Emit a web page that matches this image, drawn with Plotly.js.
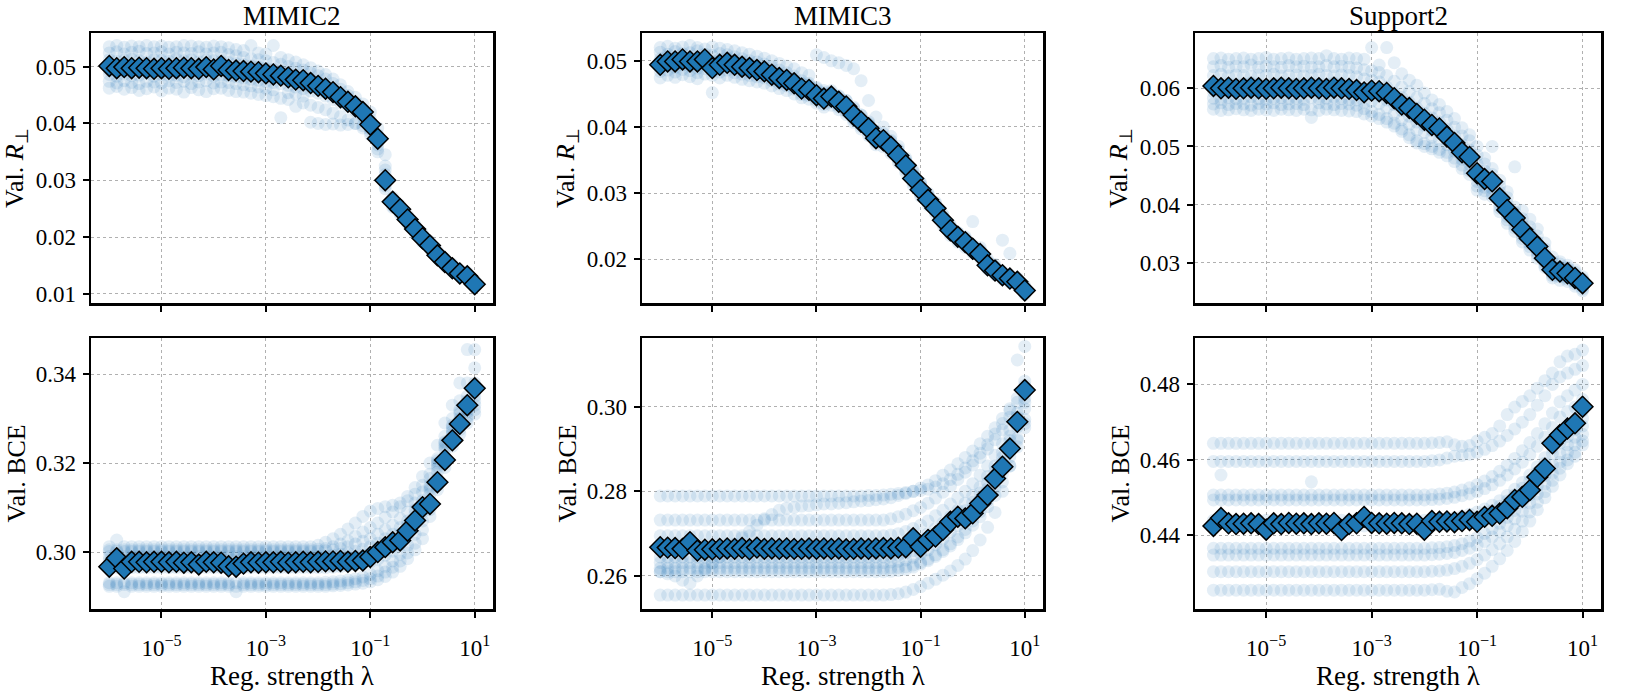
<!DOCTYPE html>
<html>
<head>
<meta charset="utf-8">
<script src="https://cdn.plot.ly/plotly-3.0.1.min.js"></script>
<style>
  html, body { margin: 0; padding: 0; background: #fff; }
  #chart { width: 1634px; height: 695px; }
</style>
</head>
<body>
<div id="chart"></div>
<script>
// Regularisation strengths (log-spaced grid, 7 per decade)
const lambdas = [
  1e-6, 1.389e-6, 1.931e-6, 2.683e-6, 3.728e-6, 5.179e-6, 7.197e-6,
  1e-5, 1.389e-5, 1.931e-5, 2.683e-5, 3.728e-5, 5.179e-5, 7.197e-5,
  1e-4, 1.389e-4, 1.931e-4, 2.683e-4, 3.728e-4, 5.179e-4, 7.197e-4,
  1e-3, 1.389e-3, 1.931e-3, 2.683e-3, 3.728e-3, 5.179e-3, 7.197e-3,
  1e-2, 1.389e-2, 1.931e-2, 2.683e-2, 3.728e-2, 5.179e-2, 7.197e-2,
  0.1, 0.1389, 0.1931, 0.2683, 0.3728, 0.5179, 0.7197,
  1, 1.389, 1.931, 2.683, 3.728, 5.179, 7.197,
  10
];

const datasetNames = ['MIMIC2', 'MIMIC3', 'Support2'];
const xTickVals = [1e-5, 1e-3, 1e-1, 10];
const xTickText = ['10<sup>\u22125</sup>', '10<sup>\u22123</sup>', '10<sup>\u22121</sup>', '10<sup>1</sup>'];

// ---------- MIMIC2: validation R_perp ----------
const mimic2RMean = [
  .0501,.0497,.0499,.0497,.0498,.0497,.0496,
  .0497,.0496,.0497,.0498,.0497,.0496,.0499,
  .0495,.0501,.0494,.0493,.0492,.0491,.0490,
  .0488,.0486,.0484,.0481,.0477,.0476,.0471,
  .0466,.0461,.0455,.0446,.0438,.0430,.0420,
  .0398,.0373,.0300,.0262,.0249,.0231,.0214,
  .0198,.0185,.0168,.0156,.0145,.0136,.0131,
  .0117
];
const mimic2RRuns = [
  [.0535,.0537,.0534,.0536,.0535,.0537,.0535,.0536,.0534,.0535,.0537,.0536,.0535,.0534,.0536,.0535,.0533,
   .0530,.0528,.0537,.0524,.0522,.0537,.0516,.0512,.0508,.0503,.0498,.0492,.0486,.0478,.0468,.0456,.0446,.0434,.0420,.0392,
   .0325,.0270,.0256,.0238,.0222,.0206,.0192,.0175,.0162,.0152,.0142,.0137,.0123],
  [.0524,.0526,.0522,.0525,.0527,.0523,.0524,.0526,.0522,.0525,.0524,.0523,.0526,.0522,.0524,.0525,.0521,
   .0519,.0516,.0514,.0512,.0510,.0507,.0504,.0500,.0497,.0494,.0489,.0484,.0478,.0470,.0460,.0449,.0437,.0426,.0408,.0380,
   .0310,.0266,.0252,.0234,.0218,.0201,.0188,.0171,.0159,.0148,.0139,.0133,.0120],
  [.0512,.0509,.0511,.0513,.0510,.0508,.0512,.0511,.0509,.0513,.0510,.0512,.0508,.0511,.0510,.0509,.0507,
   .0505,.0503,.0501,.0499,.0497,.0495,.0492,.0489,.0485,.0482,.0478,.0472,.0466,.0459,.0450,.0441,.0432,.0424,.0402,.0378,
   .0300,.0262,.0249,.0232,.0215,.0199,.0186,.0169,.0157,.0146,.0137,.0131,.0118],
  [.0503,.0500,.0504,.0501,.0502,.0505,.0500,.0503,.0501,.0502,.0504,.0500,.0503,.0502,.0501,.0503,.0500,
   .0498,.0496,.0494,.0492,.0490,.0488,.0486,.0483,.0480,.0478,.0474,.0469,.0464,.0458,.0450,.0442,.0433,.0423,.0400,.0372,
   .0296,.0260,.0247,.0230,.0214,.0197,.0184,.0168,.0155,.0145,.0136,.0130,.0117],
  [.0493,.0496,.0492,.0495,.0494,.0491,.0495,.0493,.0496,.0492,.0494,.0495,.0491,.0494,.0493,.0495,.0492,
   .0490,.0488,.0486,.0484,.0482,.0480,.0478,.0475,.0472,.0470,.0466,.0462,.0456,.0450,.0444,.0436,.0428,.0416,.0395,.0368,
   .0290,.0258,.0245,.0228,.0212,.0195,.0183,.0166,.0154,.0143,.0135,.0129,.0116],
  [.0486,.0483,.0487,.0484,.0485,.0488,.0483,.0486,.0484,.0485,.0482,.0486,.0484,.0487,.0483,.0485,.0484,
   .0482,.0480,.0478,.0476,.0474,.0472,.0470,.0467,.0464,.0461,.0457,.0453,.0448,.0442,.0436,.0430,.0422,.0412,.0390,.0362,
   .0285,.0255,.0243,.0226,.0210,.0193,.0181,.0165,.0152,.0142,.0134,.0128,.0115],
  [.0474,.0471,.0475,.0472,.0470,.0474,.0473,.0471,.0475,.0472,.0474,.0470,.0473,.0475,.0471,.0473,.0472,
   .0470,.0468,.0466,.0464,.0462,.0459,.0410,.0454,.0452,.0448,.0402,.0400,.0398,.0399,.0397,.0398,.0400,.0396,.0385,.0355,
   .0345,.0252,.0240,.0224,.0207,.0191,.0179,.0163,.0150,.0140,.0132,.0126,.0113],
  [.0462,.0465,.0460,.0463,.0458,.0461,.0464,.0457,.0462,.0460,.0455,.0463,.0459,.0456,.0461,.0462,.0458,
   .0456,.0455,.0453,.0451,.0449,.0447,.0444,.0442,.0430,.0436,.0432,.0428,.0424,.0418,.0412,.0406,.0400,.0392,.0380,.0350,
   .0318,.0264,.0251,.0233,.0216,.0200,.0187,.0170,.0158,.0147,.0138,.0132,.0119]
];

// ---------- MIMIC3: validation R_perp ----------
const mimic3RMean = [
  .0494,.0499,.0499,.0502,.0499,.0499,.0502,
  .0489,.0494,.0497,.0494,.0491,.0489,.0486,
  .0484,.0479,.0474,.0471,.0466,.0458,.0456,
  .0448,.0443,.0446,.0438,.0431,.0418,.0408,
  .0398,.0383,.0380,.0370,.0357,.0342,.0322,
  .0305,.0290,.0277,.0259,.0244,.0234,.0226,
  .0216,.0208,.0191,.0183,.0176,.0171,.0166,
  .0153
];
const mimic3RRuns = [
  [.0520,.0522,.0519,.0521,.0523,.0520,.0518,.0521,.0519,.0517,.0515,
   .0512,.0510,.0507,.0504,.0500,.0496,.0492,.0488,.0482,.0478,
   .0509,.0505,.0500,.0497,.0493,.0488,.0470,.0440,.0415,.0400,.0386,.0371,.0353,.0334,
   .0316,.0300,.0286,.0268,.0252,.0240,.0234,.0257,.0218,.0200,.0192,.0229,.0209,.0172,.0160],
  [.0513,.0510,.0514,.0511,.0512,.0515,.0510,.0508,.0511,.0509,.0506,.0503,.0500,.0498,.0495,.0491,.0486,.0482,.0477,.0470,.0466,
   .0460,.0455,.0452,.0446,.0440,.0428,.0418,.0408,.0394,.0390,.0380,.0366,.0350,.0332,
   .0314,.0298,.0284,.0266,.0250,.0240,.0232,.0222,.0214,.0197,.0189,.0181,.0176,.0170,.0158],
  [.0503,.0506,.0502,.0505,.0504,.0501,.0506,.0497,.0502,.0504,.0500,.0497,.0495,.0492,.0490,.0485,.0480,.0477,.0472,.0465,.0462,
   .0454,.0449,.0450,.0443,.0435,.0423,.0413,.0403,.0388,.0385,.0375,.0361,.0346,.0327,
   .0310,.0294,.0281,.0263,.0247,.0237,.0229,.0219,.0211,.0194,.0186,.0178,.0173,.0168,.0156],
  [.0496,.0499,.0495,.0498,.0497,.0494,.0499,.0491,.0496,.0498,.0495,.0492,.0490,.0487,.0485,.0480,.0475,.0472,.0467,.0459,.0457,
   .0449,.0444,.0447,.0439,.0432,.0419,.0409,.0399,.0384,.0381,.0371,.0358,.0343,.0323,
   .0306,.0291,.0278,.0260,.0245,.0235,.0227,.0217,.0209,.0192,.0184,.0177,.0172,.0167,.0154],
  [.0491,.0493,.0490,.0494,.0492,.0489,.0495,.0484,.0489,.0492,.0489,.0486,.0484,.0482,.0480,.0475,.0470,.0467,.0462,.0454,.0452,
   .0444,.0439,.0442,.0434,.0428,.0415,.0405,.0395,.0380,.0377,.0367,.0354,.0339,.0319,
   .0302,.0288,.0275,.0257,.0242,.0232,.0224,.0214,.0206,.0189,.0181,.0174,.0169,.0164,.0151],
  [.0484,.0486,.0483,.0487,.0485,.0482,.0488,.0478,.0483,.0486,.0482,.0480,.0478,.0476,.0474,.0470,.0465,.0462,.0457,.0449,.0447,
   .0440,.0434,.0437,.0430,.0423,.0411,.0401,.0391,.0377,.0374,.0364,.0350,.0335,.0316,
   .0298,.0285,.0272,.0254,.0239,.0229,.0221,.0212,.0204,.0187,.0179,.0172,.0167,.0162,.0149],
  [.0474,.0478,.0475,.0479,.0476,.0473,.0480,.0452,.0474,.0478,.0475,.0472,.0470,.0468,.0466,.0462,.0458,.0455,.0450,.0444,.0442,
   .0436,.0430,.0433,.0426,.0419,.0407,.0397,.0387,.0373,.0370,.0360,.0346,.0331,.0312,
   .0295,.0282,.0269,.0251,.0236,.0226,.0218,.0210,.0202,.0185,.0177,.0170,.0165,.0160,.0147],
  [.0500,.0497,.0501,.0499,.0498,.0502,.0496,.0500,.0498,.0501,.0497,.0494,.0493,.0490,.0487,.0483,.0478,.0474,.0470,.0466,.0463,
   .0458,.0452,.0455,.0447,.0440,.0430,.0418,.0405,.0390,.0386,.0378,.0364,.0348,.0328,
   .0312,.0296,.0280,.0262,.0248,.0236,.0228,.0218,.0210,.0193,.0185,.0178,.0172,.0166,.0154]
];

// ---------- Support2: validation R_perp ----------
const support2RMean = [
  .0604,.0600,.0601,.0599,.0600,.0601,.0600,
  .0599,.0600,.0601,.0600,.0599,.0600,.0601,
  .0600,.0599,.0601,.0600,.0599,.0597,.0593,
  .0596,.0595,.0592,.0583,.0572,.0566,.0556,
  .0546,.0537,.0531,.0517,.0506,.0490,.0482,
  .0454,.0444,.0440,.0411,.0391,.0377,.0357,
  .0342,.0328,.0308,.0288,.0285,.0282,.0274,
  .0265
];
const support2RRuns = [
  [.0651,.0652,.0650,.0651,.0652,.0650,.0651,.0653,.0650,.0651,.0652,.0650,.0651,.0652,.0651,.0656,.0651,.0650,.0652,.0651,
   .0650,.0670,.0640,.0670,.0644,.0625,.0614,.0605,.0592,.0580,.0572,.0560,.0548,.0532,.0520,
   .0500,.0480,.0500,.0442,.0422,.0465,.0390,.0375,.0358,.0334,.0310,.0302,.0296,.0288,.0276],
  [.0637,.0639,.0636,.0638,.0637,.0640,.0636,.0638,.0637,.0636,.0639,.0637,.0638,.0636,.0637,.0639,.0637,.0638,.0636,.0635,
   .0632,.0630,.0627,.0622,.0612,.0602,.0594,.0584,.0574,.0565,.0558,.0545,.0533,.0518,.0510,
   .0485,.0470,.0462,.0432,.0412,.0396,.0376,.0362,.0346,.0324,.0302,.0298,.0292,.0284,.0272],
  [.0622,.0624,.0621,.0623,.0622,.0620,.0623,.0622,.0624,.0621,.0622,.0623,.0621,.0622,.0624,.0622,.0621,.0623,.0622,.0620,
   .0616,.0614,.0611,.0602,.0592,.0584,.0576,.0566,.0557,.0549,.0542,.0530,.0518,.0503,.0494,
   .0470,.0458,.0452,.0422,.0402,.0387,.0366,.0351,.0336,.0316,.0296,.0292,.0288,.0280,.0270],
  [.0607,.0605,.0608,.0606,.0607,.0609,.0606,.0605,.0607,.0608,.0606,.0607,.0605,.0608,.0606,.0607,.0609,.0606,.0605,.0603,
   .0598,.0600,.0598,.0592,.0584,.0576,.0566,.0556,.0548,.0540,.0535,.0521,.0510,.0494,.0486,
   .0460,.0450,.0444,.0415,.0395,.0380,.0360,.0345,.0330,.0310,.0290,.0287,.0284,.0276,.0267],
  [.0594,.0596,.0593,.0595,.0594,.0592,.0595,.0594,.0596,.0593,.0594,.0595,.0593,.0594,.0596,.0594,.0593,.0595,.0594,.0592,
   .0588,.0590,.0588,.0580,.0572,.0562,.0552,.0542,.0536,.0528,.0524,.0512,.0500,.0484,.0476,
   .0448,.0438,.0434,.0406,.0386,.0372,.0352,.0338,.0323,.0304,.0285,.0283,.0280,.0272,.0263],
  [.0583,.0581,.0584,.0582,.0583,.0585,.0582,.0581,.0583,.0584,.0582,.0583,.0581,.0584,.0582,.0583,.0585,.0582,.0581,.0580,
   .0576,.0578,.0574,.0566,.0556,.0546,.0538,.0528,.0524,.0516,.0512,.0503,.0492,.0478,.0470,
   .0440,.0430,.0428,.0400,.0380,.0366,.0347,.0333,.0318,.0300,.0281,.0279,.0276,.0268,.0259],
  [.0573,.0575,.0572,.0574,.0573,.0571,.0574,.0573,.0575,.0572,.0573,.0574,.0572,.0550,.0575,.0573,.0572,.0574,.0573,.0571,
   .0565,.0560,.0555,.0548,.0540,.0530,.0520,.0510,.0505,.0500,.0495,.0490,.0480,.0468,.0458,
   .0432,.0424,.0420,.0394,.0374,.0360,.0342,.0328,.0314,.0296,.0278,.0276,.0272,.0264,.0255],
  [.0564,.0562,.0563,.0565,.0563,.0562,.0564,.0563,.0562,.0564,.0563,.0562,.0564,.0563,.0562,.0564,.0563,.0562,.0561,.0560,
   .0556,.0552,.0548,.0542,.0535,.0526,.0515,.0506,.0500,.0496,.0490,.0484,.0474,.0462,.0452,
   .0425,.0418,.0414,.0388,.0368,.0354,.0336,.0322,.0308,.0292,.0274,.0270,.0268,.0260,.0252]
];

// ---------- MIMIC2: validation BCE ----------
const mimic2BceMean = [
  .2967,.2986,.2963,.2978,.2978,.2977,.2978,
  .2978,.2977,.2978,.2976,.2977,.2972,.2978,
  .2977,.2976,.2968,.2967,.2974,.2977,.2976,
  .2977,.2977,.2978,.2976,.2977,.2978,.2977,
  .2978,.2979,.2979,.2980,.2978,.2980,.2981,
  .2989,.3000,.3011,.3022,.3026,.3048,.3071,
  .3101,.3108,.3157,.3207,.3251,.3288,.3330,
  .3368
];
const mimic2BceRuns = [
  [.3012,.3027,.3012,.3012,.3012,.3012,.3012,.3012,.3012,.3012,.3012,.3012,.3012,.3012,
   .3012,.3012,.3012,.3012,.3012,.3012,.3012,.3012,.3012,.3012,.3012,.3012,.3012,.3012,
   .3015,.3022,.3030,.3040,.3052,.3065,.3080,.3092,.3098,.3102,.3105,.3110,.3125,.3145,.3170,.3200,.3240,.3290,.3330,.3380,.3455,.3455],
  [.3005,.3005,.3005,.3005,.3005,.3005,.3005,.3005,.3005,.3005,.3005,.3005,.3005,.3005,
   .3005,.3005,.3005,.3005,.3005,.3005,.3005,.3005,.3005,.3005,.3005,.3005,.3005,.3005,
   .3006,.3008,.3012,.3018,.3025,.3035,.3045,.3055,.3065,.3078,.3090,.3102,.3115,.3130,.3150,.3175,.3210,.3260,.3300,.3340,.3380,.3414],
  [.3001,.3001,.3001,.3001,.3001,.3001,.3001,.3001,.3001,.3001,.3001,.3001,.3001,.3001,
   .3001,.3001,.3001,.3001,.3001,.3001,.3001,.3001,.3001,.3001,.3001,.3001,.3001,.3001,
   .3002,.3003,.3005,.3008,.3012,.3018,.3024,.3030,.3040,.3050,.3060,.3075,.3090,.3110,.3135,.3165,.3205,.3248,.3285,.3320,.3350,.3380],
  [.2990,.2990,.2990,.2990,.2990,.2990,.2990,.2990,.2990,.2990,.2990,.2990,.2990,.2990,
   .2990,.2990,.2990,.2990,.2990,.2990,.2990,.2990,.2990,.2990,.2990,.2990,.2990,.2990,
   .2990,.2991,.2993,.2995,.2998,.3002,.3006,.3012,.3020,.3030,.3040,.3055,.3070,.3095,.3115,.3150,.3200,.3245,.3280,.3315,.3340,.3370],
  [.2982,.2982,.2982,.2982,.2982,.2982,.2982,.2982,.2982,.2982,.2982,.2982,.2982,.2982,
   .2982,.2982,.2982,.2982,.2982,.2982,.2982,.2982,.2982,.2982,.2982,.2982,.2982,.2982,
   .2982,.2983,.2984,.2986,.2988,.2990,.2994,.2998,.3005,.3015,.3025,.3040,.3060,.3085,.3100,.3145,.3195,.3240,.3275,.3310,.3330,.3360],
  [.2975,.2975,.2975,.2975,.2975,.2975,.2975,.2975,.2975,.2975,.2975,.2975,.2975,.2975,
   .2975,.2975,.2975,.2975,.2975,.2975,.2975,.2975,.2975,.2975,.2975,.2975,.2975,.2975,
   .2975,.2975,.2976,.2977,.2979,.2982,.2985,.2990,.2996,.3005,.3015,.3030,.3050,.3075,.3095,.3140,.3190,.3235,.3270,.3300,.3320,.3350],
  [.2965,.2965,.2965,.2965,.2965,.2965,.2965,.2965,.2965,.2965,.2965,.2965,.2965,.2965,
   .2965,.2965,.2965,.2965,.2965,.2965,.2965,.2965,.2965,.2965,.2965,.2965,.2965,.2965,
   .2965,.2965,.2966,.2967,.2969,.2971,.2974,.2978,.2984,.2993,.3002,.3018,.3040,.3065,.3090,.3130,.3180,.3230,.3265,.3295,.3315,.3340],
  [.2931,.2931,.2931,.2931,.2931,.2931,.2931,.2931,.2931,.2931,.2931,.2931,.2931,.2931,
   .2931,.2931,.2931,.2931,.2931,.2931,.2931,.2931,.2931,.2931,.2931,.2931,.2931,.2931,
   .2931,.2932,.2933,.2935,.2937,.2940,.2944,.2950,.2958,.2968,.2980,.2995,.3015,.3040,.3070,.3110,.3165,.3215,.3255,.3285,.3305,.3330],
  [.2927,.2927,.2927,.2927,.2927,.2927,.2927,.2927,.2927,.2927,.2927,.2927,.2927,.2927,
   .2927,.2927,.2927,.2911,.2927,.2927,.2927,.2927,.2927,.2927,.2927,.2927,.2927,.2927,
   .2927,.2927,.2928,.2929,.2931,.2933,.2936,.2940,.2946,.2955,.2966,.2980,.2998,.3020,.3050,.3095,.3150,.3200,.3245,.3275,.3300,.3320],
  [.2923,.2923,.2911,.2923,.2923,.2923,.2923,.2923,.2923,.2923,.2923,.2923,.2923,.2923,
   .2923,.2923,.2923,.2923,.2923,.2923,.2923,.2923,.2923,.2923,.2923,.2923,.2923,.2923,
   .2923,.2923,.2924,.2925,.2926,.2928,.2930,.2933,.2938,.2945,.2955,.2968,.2985,.3005,.3030,.3080,.3140,.3190,.3238,.3265,.3290,.3310]
];

// ---------- MIMIC3: validation BCE ----------
const mimic3BceMean = [
  .2668,.2667,.2666,.2664,.2680,.2660,.2662,
  .2663,.2664,.2665,.2664,.2666,.2663,.2667,
  .2664,.2665,.2664,.2665,.2664,.2664,.2665,
  .2664,.2665,.2664,.2665,.2663,.2664,.2665,
  .2664,.2665,.2666,.2665,.2667,.2668,.2689,
  .2669,.2685,.2693,.2709,.2728,.2740,.2736,
  .2748,.2771,.2791,.2830,.2858,.2901,.2964,
  .3039
];
const mimic3BceRuns = [
  [.2789,.2789,.2789,.2789,.2789,.2789,.2789,.2789,.2789,.2789,.2789,.2789,.2789,.2789,
   .2789,.2789,.2789,.2789,.2789,.2789,.2789,.2789,.2789,.2789,.2789,.2789,.2789,.2789,
   .2790,.2790,.2791,.2793,.2795,.2797,.2800,.2802,.2805,.2810,.2818,.2828,.2840,.2855,.2872,.2890,.2910,.2935,.2960,.2990,.3110,.3142],
  [.2732,.2732,.2732,.2732,.2732,.2732,.2732,.2732,.2732,.2732,.2732,.2732,.2732,.2732,.2732,.2732,
   .2732,.2732,.2732,.2732,.2732,.2732,.2732,.2732,.2732,.2732,.2732,.2732,.2732,.2732,.2732,
   .2735,.2740,.2746,.2754,.2762,.2772,.2784,.2798,.2812,.2828,.2845,.2862,.2880,.2900,.2922,.2945,.2975,.3010,.3060],
  [.2610,.2605,.2600,.2590,
   .2583,.2600,.2615,.2630,.2645,.2660,.2675,.2690,.2705,.2720,.2735,.2745,.2755,
   .2760,.2762,.2765,.2766,.2768,.2770,.2770,.2772,.2773,.2775,.2777,.2778,.2780,.2782,
   .2785,.2790,.2795,.2800,.2808,.2815,.2825,.2838,.2850,.2865,.2880,.2895,.2912,.2930,.2950,.2972,.2995,.3020,.3050],
  [.2695,.2695,.2695,.2695,.2695,.2695,.2695,.2695,.2695,.2695,.2695,.2695,.2695,.2695,.2695,.2695,
   .2695,.2695,.2695,.2695,.2695,.2695,.2695,.2695,.2695,.2695,.2695,.2695,.2695,.2695,.2695,
   .2697,.2700,.2705,.2712,.2720,.2730,.2742,.2755,.2770,.2785,.2800,.2818,.2838,.2860,.2885,.2912,.2945,.2985,.3030],
  [.2668,.2668,.2668,.2668,.2668,.2668,.2668,.2668,.2668,.2668,.2668,.2668,.2668,.2668,.2668,.2668,
   .2668,.2668,.2668,.2668,.2668,.2668,.2668,.2668,.2668,.2668,.2668,.2668,.2668,.2668,.2668,
   .2670,.2672,.2676,.2682,.2690,.2700,.2712,.2725,.2740,.2755,.2772,.2790,.2810,.2835,.2860,.2892,.2930,.2975,.3020],
  [.2645,.2645,.2645,.2645,.2645,.2645,.2645,.2645,.2645,.2645,.2645,.2645,.2645,.2645,.2645,.2645,
   .2645,.2645,.2645,.2645,.2645,.2645,.2645,.2645,.2645,.2645,.2645,.2645,.2645,.2645,.2645,
   .2647,.2650,.2654,.2660,.2668,.2678,.2690,.2704,.2720,.2736,.2754,.2774,.2796,.2820,.2848,.2880,.2920,.2965,.3010],
  [.2632,.2632,.2632,.2632,.2632,.2632,.2632,.2632,.2632,.2632,.2632,.2632,.2632,.2632,.2632,.2632,
   .2632,.2632,.2632,.2632,.2632,.2632,.2632,.2632,.2632,.2632,.2632,.2632,.2632,.2632,.2632,
   .2633,.2635,.2638,.2644,.2652,.2662,.2674,.2688,.2704,.2720,.2738,.2758,.2780,.2806,.2835,.2868,.2908,.2952,.2995],
  [.2618,.2618,.2618,.2618,.2618,.2618,.2618,.2618,.2618,.2618,.2618,.2618,.2618,.2618,.2618,.2618,
   .2618,.2618,.2618,.2618,.2618,.2618,.2618,.2618,.2618,.2618,.2618,.2618,.2618,.2618,.2618,
   .2619,.2620,.2622,.2626,.2632,.2640,.2650,.2662,.2676,.2692,.2710,.2730,.2752,.2778,.2808,.2842,.2882,.2925,.2970],
  [.2555,.2555,.2555,.2555,.2555,.2555,.2555,.2555,.2555,.2555,.2555,.2555,.2555,.2555,.2555,.2555,
   .2555,.2555,.2555,.2555,.2555,.2555,.2555,.2555,.2555,.2555,.2555,.2555,.2555,.2555,.2555,
   .2556,.2558,.2562,.2568,.2575,.2583,.2592,.2602,.2612,.2625,.2640,.2660,.2685,.2715,.2750,.2800,.2860,.2920,.2950],
  [.2610,.2610,.2610,.2610,.2610,.2610,.2610,.2610,.2610,.2610,.2610,.2610,.2610,.2610,.2610,.2610,
   .2610,.2610,.2610,.2610,.2610,.2610,.2610,.2610,.2610,.2610,.2610,.2610,.2610,.2610,.2610,
   .2611,.2613,.2616,.2621,.2628,.2636,.2646,.2658,.2671,.2686,.2702,.2720,.2740,.2764,.2790,.2822,.2860,.2905,.2960]
];

// ---------- Support2: validation BCE ----------
const support2BceMean = [
  .4425,.4446,.4432,.4430,.4431,.4432,.4430,
  .4415,.4432,.4430,.4433,.4431,.4432,.4430,
  .4432,.4431,.4433,.4414,.4430,.4432,.4449,
  .4433,.4432,.4431,.4433,.4432,.4430,.4431,
  .4415,.4438,.4436,.4437,.4435,.4438,.4441,
  .4436,.4449,.4452,.4458,.4472,.4494,.4502,
  .4520,.4555,.4577,.4644,.4666,.4683,.4697,
  .4741
];
const support2BceRuns = [
  [.4644,.4644,.4644,.4644,.4644,.4644,.4644,.4644,.4644,.4644,.4644,.4644,.4644,.4644,
   .4644,.4644,.4644,.4644,.4644,.4644,.4644,.4644,.4644,.4644,.4644,.4644,.4644,.4644,
   .4644,.4645,.4646,.4648,.4640,.4636,.4638,.4650,.4660,.4670,.4690,.4720,.4740,.4755,.4770,.4790,.4810,.4830,.4860,.4875,.4880,.4891],
  [.4596,.4596,.4596,.4596,.4596,.4596,.4596,.4596,.4596,.4596,.4596,.4596,.4596,.4596,
   .4596,.4596,.4596,.4596,.4596,.4596,.4596,.4596,.4596,.4596,.4596,.4596,.4596,.4596,
   .4596,.4598,.4600,.4605,.4610,.4612,.4615,.4620,.4628,.4638,.4650,.4665,.4682,.4700,.4720,.4745,.4770,.4800,.4820,.4830,.4840,.4850],
  [.4507,.4507,.4507,.4507,.4507,.4507,.4507,.4507,.4507,.4507,.4507,.4507,.4507,.4507,
   .4507,.4507,.4507,.4507,.4507,.4507,.4507,.4507,.4507,.4507,.4507,.4507,.4507,.4507,
   .4507,.4508,.4510,.4512,.4515,.4520,.4526,.4534,.4544,.4556,.4570,.4586,.4604,.4624,.4646,.4670,.4696,.4724,.4754,.4770,.4785,.4800],
  [.4494,.4494,.4494,.4494,.4494,.4494,.4494,.4494,.4494,.4494,.4494,.4494,.4494,.4494,
   .4494,.4494,.4494,.4494,.4494,.4494,.4494,.4494,.4494,.4494,.4494,.4494,.4494,.4494,
   .4494,.4495,.4496,.4498,.4501,.4505,.4510,.4516,.4524,.4534,.4546,.4560,.4576,.4594,.4614,.4636,.4660,.4686,.4714,.4728,.4740,.4760],
  [.4440,.4440,.4440,.4440,.4440,.4440,.4440,.4440,.4440,.4440,.4440,.4440,.4440,.4542,
   .4440,.4440,.4440,.4440,.4440,.4440,.4440,.4440,.4440,.4440,.4440,.4440,.4440,.4440,
   .4440,.4441,.4442,.4444,.4447,.4451,.4456,.4462,.4470,.4480,.4492,.4506,.4522,.4540,.4560,.4582,.4606,.4632,.4660,.4676,.4700,.4730],
  [.4425,.4560,.4425,.4425,.4425,.4425,.4425,.4425,.4425,.4425,.4425,.4425,.4425,.4425,
   .4425,.4425,.4425,.4425,.4425,.4425,.4425,.4425,.4425,.4425,.4425,.4425,.4425,.4425,
   .4425,.4426,.4427,.4429,.4432,.4436,.4441,.4447,.4455,.4465,.4477,.4491,.4507,.4525,.4545,.4567,.4591,.4617,.4645,.4662,.4680,.4710],
  [.4366,.4366,.4366,.4366,.4366,.4366,.4366,.4366,.4366,.4366,.4366,.4366,.4366,.4366,
   .4366,.4366,.4366,.4366,.4366,.4366,.4366,.4366,.4366,.4366,.4366,.4366,.4366,.4366,
   .4366,.4367,.4368,.4370,.4373,.4378,.4385,.4394,.4405,.4418,.4432,.4448,.4466,.4486,.4508,.4532,.4558,.4586,.4616,.4640,.4660,.4690],
  [.4348,.4348,.4348,.4348,.4348,.4348,.4348,.4348,.4348,.4348,.4348,.4348,.4348,.4348,
   .4348,.4348,.4348,.4348,.4348,.4348,.4348,.4348,.4348,.4348,.4348,.4348,.4348,.4348,
   .4348,.4349,.4350,.4352,.4355,.4360,.4366,.4374,.4384,.4396,.4410,.4426,.4444,.4464,.4486,.4510,.4536,.4564,.4594,.4620,.4640,.4668],
  [.4304,.4304,.4304,.4304,.4304,.4304,.4304,.4304,.4304,.4304,.4304,.4304,.4304,.4304,
   .4304,.4304,.4304,.4304,.4304,.4304,.4304,.4304,.4304,.4304,.4304,.4304,.4304,.4304,
   .4304,.4305,.4306,.4308,.4312,.4318,.4326,.4336,.4348,.4362,.4378,.4396,.4416,.4438,.4462,.4488,.4516,.4546,.4578,.4600,.4620,.4650],
  [.4255,.4255,.4255,.4255,.4255,.4255,.4255,.4255,.4255,.4255,.4255,.4255,.4255,.4255,
   .4255,.4255,.4255,.4255,.4255,.4255,.4255,.4255,.4255,.4255,.4255,.4255,.4255,.4255,
   .4255,.4256,.4257,.4252,.4250,.4262,.4272,.4285,.4300,.4318,.4338,.4360,.4384,.4410,.4438,.4468,.4500,.4530,.4560,.4590,.4610,.4640]
];

// ---------- figure assembly ----------
const W = 1634, H = 695;
const FONT = 'Liberation Serif, serif';
const BLUE = '#1f77b4';

// panel frames in pixels: [left, right] per column, [top, bottom] per row
const colPx = [[91, 493], [642, 1043], [1195, 1601]];
const rowPx = [[33, 303], [338, 609]];
const xDom = c => [colPx[c][0] / W, colPx[c][1] / W];
const yDom = r => [1 - rowPx[r][1] / H, 1 - rowPx[r][0] / H];

const panels = [
  { runs: mimic2RRuns,     mean: mimic2RMean,     row: 0, col: 0, range: [0.0084, 0.0559], dtick: 0.01 },
  { runs: mimic3RRuns,     mean: mimic3RMean,     row: 0, col: 1, range: [0.0134, 0.0542], dtick: 0.01 },
  { runs: support2RRuns,   mean: support2RMean,   row: 0, col: 2, range: [0.0231, 0.0695], dtick: 0.01 },
  { runs: mimic2BceRuns,   mean: mimic2BceMean,   row: 1, col: 0, range: [0.2872, 0.3481], dtick: 0.02 },
  { runs: mimic3BceRuns,   mean: mimic3BceMean,   row: 1, col: 1, range: [0.2522, 0.3162], dtick: 0.02 },
  { runs: support2BceRuns, mean: support2BceMean, row: 1, col: 2, range: [0.4205, 0.4923], dtick: 0.02 }
];

const traces = [];
const layout = {
  width: W, height: H,
  margin: { l: 0, r: 0, t: 0, b: 0 },
  paper_bgcolor: '#fff', plot_bgcolor: '#fff',
  showlegend: false,
  font: { family: FONT, color: '#000', size: 23 },
  annotations: []
};

const axisStyle = {
  showline: true, linecolor: '#000', linewidth: 2.5, mirror: true,
  ticks: 'outside', ticklen: 6, tickwidth: 2, tickcolor: '#000',
  showgrid: true, gridcolor: '#b0b0b0', griddash: 'dot', gridwidth: 1,
  zeroline: false,
  tickfont: { family: FONT, size: 23, color: '#000' }
};

panels.forEach((p, i) => {
  const n = i + 1;
  const xa = 'x' + (n === 1 ? '' : n), ya = 'y' + (n === 1 ? '' : n);

  p.runs.forEach(run => {
    traces.push({
      type: 'scatter', mode: 'markers', x: lambdas, y: run,
      xaxis: xa, yaxis: ya, hoverinfo: 'skip',
      marker: { symbol: 'circle', size: 13, color: 'rgba(31,119,180,0.12)', line: { width: 0 } }
    });
  });
  traces.push({
    type: 'scatter', mode: 'markers', x: lambdas, y: p.mean,
    xaxis: xa, yaxis: ya,
    marker: { symbol: 'diamond', size: 16, color: BLUE, line: { color: '#000', width: 1.5 } }
  });

  layout['xaxis' + (n === 1 ? '' : n)] = Object.assign({}, axisStyle, {
    type: 'log', range: [-6.35, 1.35], domain: xDom(p.col), anchor: ya,
    tickmode: 'array', tickvals: xTickVals, ticktext: xTickText,
    showticklabels: p.row === 1, ticklabelstandoff: 11
  });
  layout['yaxis' + (n === 1 ? '' : n)] = Object.assign({}, axisStyle, {
    range: p.range, domain: yDom(p.row), anchor: xa,
    tick0: 0, dtick: p.dtick, tickformat: '.2f', ticklabelstandoff: 2
  });
});

// column titles, axis titles
const ann = (text, px, py, size, angle) => ({
  text, x: px / W, y: 1 - py / H, xref: 'paper', yref: 'paper',
  xanchor: 'center', yanchor: 'middle', showarrow: false,
  textangle: angle || 0, font: { family: FONT, size, color: '#000' }
});
datasetNames.forEach((name, c) => {
  const cx = (colPx[c][0] + colPx[c][1]) / 2;
  layout.annotations.push(ann(name, cx, 16, 27));
  layout.annotations.push(ann('Reg. strength \u03bb', cx, 676, 27));
  const yTitleX = colPx[c][0] - 75;
  layout.annotations.push(ann('Val. <i>R</i><sub>\u22a5</sub>', yTitleX, (rowPx[0][0] + rowPx[0][1]) / 2, 26, -90));
  layout.annotations.push(ann('Val. BCE', yTitleX, (rowPx[1][0] + rowPx[1][1]) / 2, 26, -90));
});

Plotly.newPlot('chart', traces, layout, { displayModeBar: false, staticPlot: true });
</script>
</body>
</html>
